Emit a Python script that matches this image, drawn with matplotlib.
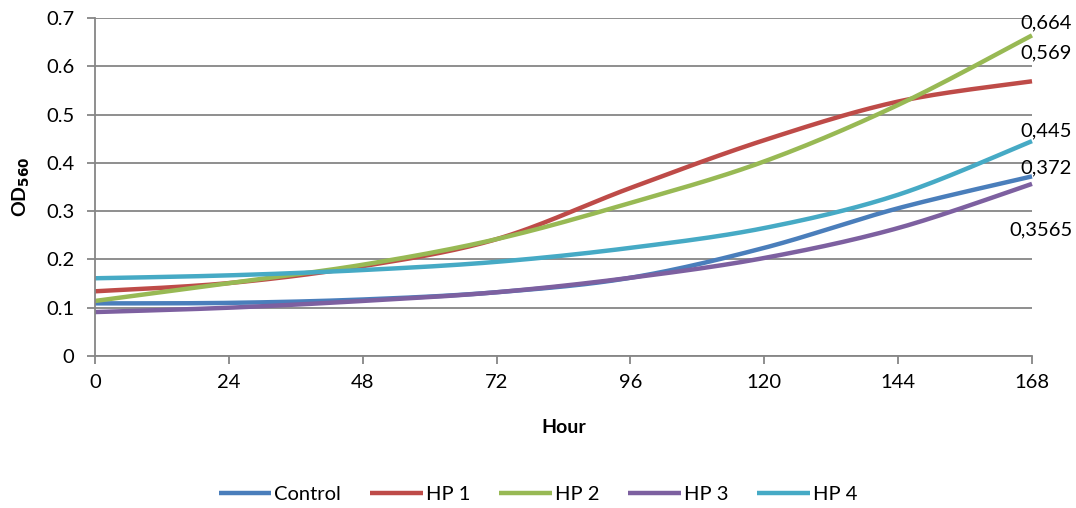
import numpy as np
import matplotlib
matplotlib.use("Agg")
import matplotlib.pyplot as plt

plt.rcParams['font.family'] = ['Lato', 'DejaVu Sans']

hours = [0, 24, 48, 72, 96, 120, 144, 168]
control = [0.109, 0.110, 0.117, 0.132, 0.162, 0.224, 0.306, 0.372]
hp1 = [0.134, 0.151, 0.186, 0.242, 0.348, 0.447, 0.527, 0.569]
hp2 = [0.114, 0.151, 0.189, 0.242, 0.317, 0.403, 0.520, 0.664]
hp3 = [0.091, 0.100, 0.114, 0.132, 0.162, 0.203, 0.265, 0.3565]
hp4 = [0.161, 0.167, 0.178, 0.195, 0.224, 0.265, 0.334, 0.445]
names = ["Control", "HP 1", "HP 2", "HP 3", "HP 4"]
series = [control, hp1, hp2, hp3, hp4]
colors = ["#4A7EBB", "#BE4B48", "#98B954", "#7D60A0", "#46AAC5"]
end_labels = ["0,372", "0,569", "0,664", "0,3565", "0,445"]
label_offsets = [(14, 9), (14, 28), (14, 13), (9, -46), (14, 10)]


def smooth(x, y, n=30):
    p = np.column_stack([x, y]).astype(float)
    pts = np.vstack([p[0], p, p[-1]])
    out = []
    t = np.linspace(0, 1, n)[:, None]
    for i in range(1, len(pts) - 2):
        p0, p1, p2, p3 = pts[i - 1], pts[i], pts[i + 1], pts[i + 2]
        c1 = p1 + (p2 - p0) / 6.0
        c2 = p2 - (p3 - p1) / 6.0
        seg = ((1 - t) ** 3) * p1 + 3 * ((1 - t) ** 2) * t * c1 + 3 * (1 - t) * t ** 2 * c2 + t ** 3 * p2
        out.append(seg if i == 1 else seg[1:])
    c = np.vstack(out)
    return c[:, 0], c[:, 1]


FS = 14.5
fig = plt.figure(figsize=(10.76, 5.08), dpi=100)
ax = fig.add_axes([95 / 1076, 1 - 356 / 508, (1032 - 95) / 1076, (356 - 18) / 508])

for name, vals, col, lab, off in zip(names, series, colors, end_labels, label_offsets):
    sx, sy = smooth(hours, vals)
    ax.plot(sx, sy, color=col, lw=3.2, label=name, solid_capstyle='butt', clip_on=False)
    ax.annotate(lab, (hours[-1], vals[-1]), xytext=off, textcoords='offset pixels',
                ha='center', va='center', fontsize=FS, color='black', annotation_clip=False)

ax.set_xlim(0, 168)
ax.set_ylim(0, 0.7)
ax.set_xticks(hours)
ax.set_yticks(np.arange(0, 0.71, 0.1))
ax.set_yticklabels(["0", "0.1", "0.2", "0.3", "0.4", "0.5", "0.6", "0.7"])
ax.grid(axis='y', color='#868686', lw=1.3)
ax.set_axisbelow(True)
for s in ['top', 'right']:
    ax.spines[s].set_visible(False)
for s in ['left', 'bottom']:
    ax.spines[s].set_color('#868686')
    ax.spines[s].set_linewidth(1.3)
ax.tick_params(axis='both', colors='#868686', labelcolor='black', labelsize=FS,
               length=6, width=1.3, direction='out')
ax.tick_params(axis='x', pad=7)
ax.tick_params(axis='y', pad=9)
ax.set_xlabel("Hour", fontsize=14, fontweight='bold', labelpad=20)
ax.set_ylabel("OD$_{\\mathbf{560}}$", fontsize=14, fontweight='bold', labelpad=10)

fig.legend(loc='center', bbox_to_anchor=(0.5, 1 - 494 / 508), ncol=5, frameon=False,
           fontsize=FS, handlelength=2.6, handletextpad=0.15, columnspacing=1.45)

fig.savefig("out.png", dpi=100)
